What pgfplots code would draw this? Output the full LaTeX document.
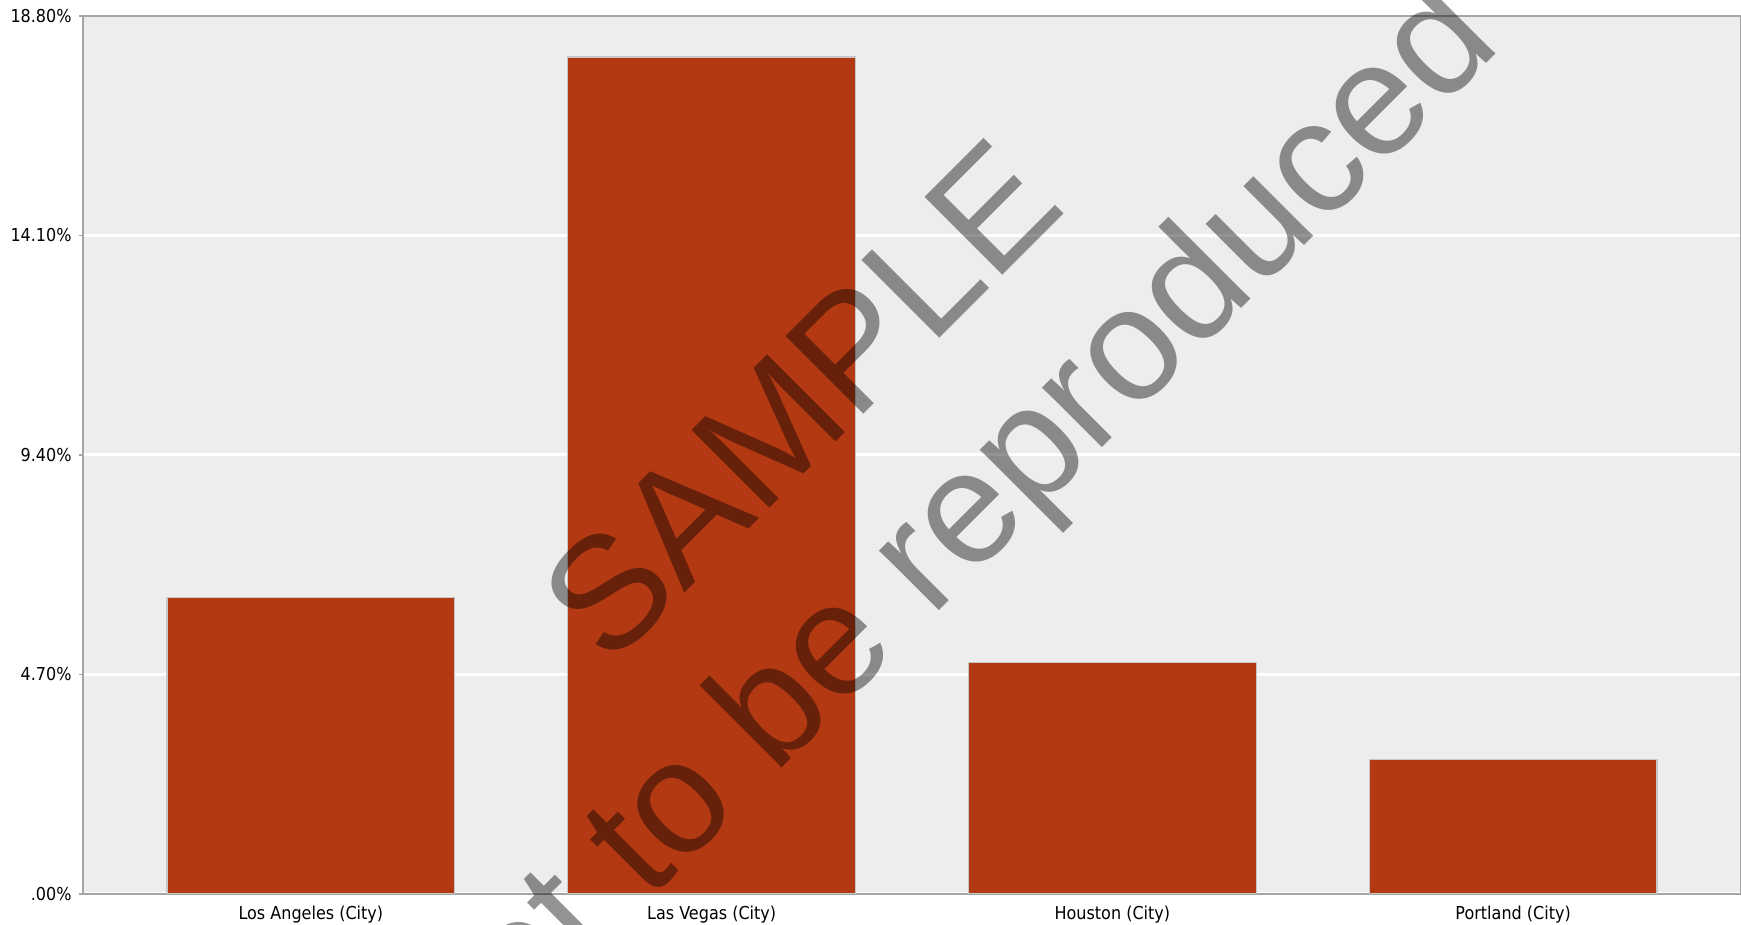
\documentclass[border=0pt]{standalone}
\usepackage{fontspec}
\usepackage{pgfplots}
\pgfplotsset{compat=1.18}
\setmainfont{DejaVu Sans}[FakeStretch=0.9]
\newfontfamily\wmfont{Liberation Sans}
\definecolor{barc}{RGB}{179,57,19}
\definecolor{bgc}{RGB}{237,237,237}
\definecolor{boxc}{RGB}{165,165,165}
\begin{document}
\begin{tikzpicture}
\useasboundingbox (-41.5pt,-15.5pt) rectangle (829pt,447pt);
\clip (-41.5pt,-15.5pt) rectangle (829pt,447pt);
\begin{axis}[
  at={(0pt,0pt)}, anchor=south west,
  scale only axis, width=829pt, height=439pt,
  xmin=-0.5686, xmax=3.5686, ymin=0, ymax=18.8,
  axis background/.style={fill=bgc},
  axis line style={draw=boxc, line width=0.9pt},
  xtick=data,
  xticklabels={Los Angeles (City), Las Vegas (City), Houston (City), Portland (City)},
  x tick style={draw=none},
  ytick={0,4.7,9.4,14.1,18.8},
  yticklabels={.00\%, 4.70\%, 9.40\%, 14.10\%, 18.80\%},
  y tick style={draw=boxc, line width=0.6pt},
  tick align=outside, major tick length=2pt,
  ymajorgrids, grid style={draw=white, line width=1.5pt},
  xticklabel style={font=\fontsize{8.9pt}{10pt}\selectfont, anchor=north, inner sep=0pt, yshift=-3.8pt},
  yticklabel style={font=\fontsize{8.9pt}{10pt}\selectfont, anchor=east, inner sep=0pt, xshift=-3.5pt},
  ybar, bar width=0.718,
]
\addplot[fill=barc, draw=black!22, line width=0.6pt] coordinates {(0,6.35) (1,17.92) (2,4.95) (3,2.88)};
\end{axis}
\node[rotate=45, anchor=base, text=black, text opacity=0.42, inner sep=0pt, font=\wmfont\fontsize{80pt}{96pt}\selectfont] at (378pt,227.5pt) {SAMPLE};
\node[rotate=45, anchor=base, text=black, text opacity=0.42, inner sep=0pt, font=\wmfont\fontsize{80pt}{96pt}\selectfont] at (444.75pt,158.25pt) {Not to be reproduced};
\end{tikzpicture}
\end{document}
